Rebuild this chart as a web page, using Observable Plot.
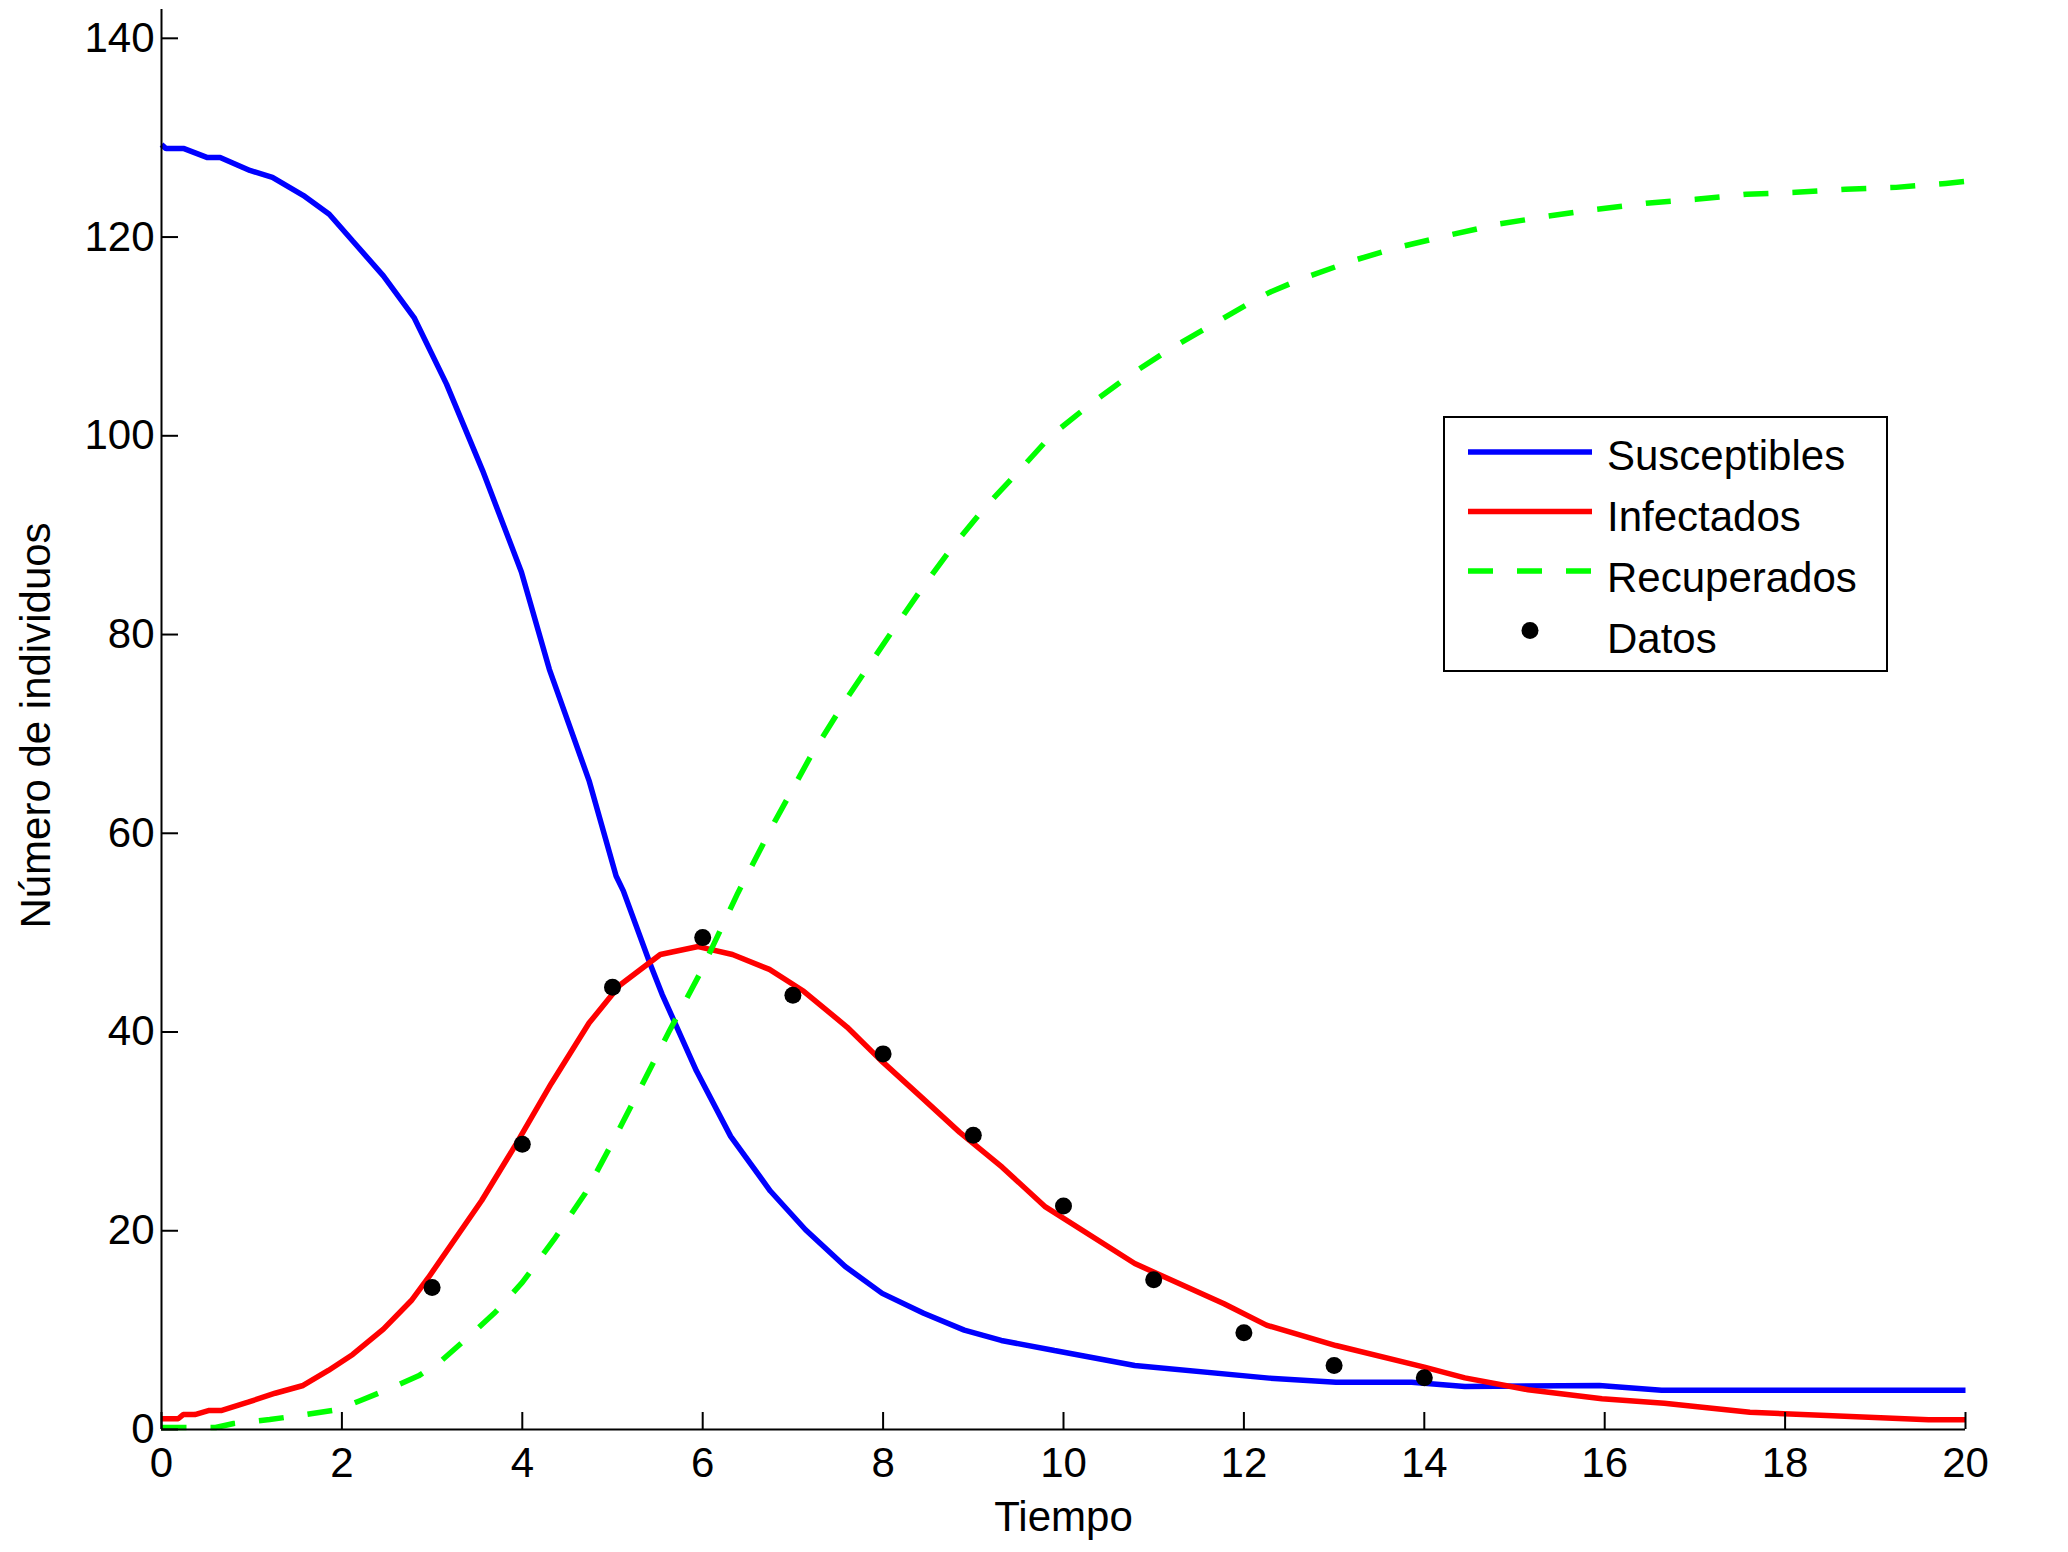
<!DOCTYPE html>
<html>
<head>
<meta charset="utf-8">
<script src="https://cdn.jsdelivr.net/npm/d3@7"></script>
<script src="https://cdn.jsdelivr.net/npm/@observablehq/plot@0.6"></script>
<style>
  html, body { margin: 0; padding: 0; background: #fff; }
  #wrap { position: relative; width: 2068px; height: 1552px; font-family: "Liberation Sans", Arial, Helvetica, sans-serif; }
  #legend { position: absolute; left: 1443px; top: 416px; width: 445px; height: 256px; box-sizing: border-box; border: 2px solid #000; background: #fff; }
</style>
</head>
<body>
<div id="wrap"></div>
<script>
// ---- Data ----
const tSus = [0, 0.05, 0.25, 0.51, 0.65, 0.98, 1.23, 1.57, 1.86, 2.12, 2.46, 2.80, 3.16, 3.56, 3.99, 4.30, 4.74, 5.04, 5.12, 5.42, 5.55, 5.93, 6.31, 6.75, 7.14, 7.58, 7.99, 8.45, 8.90, 9.31, 9.90, 10.79, 12.28, 13.02, 13.86, 14.45, 15.94, 16.63, 20];
const susceptibles = [129.3, 128.9, 128.9, 128.0, 128.0, 126.7, 126.0, 124.2, 122.3, 119.6, 116.1, 111.9, 105.2, 96.5, 86.3, 76.5, 65.3, 55.7, 54.2, 46.8, 43.8, 36.1, 29.5, 24.0, 20.1, 16.4, 13.7, 11.7, 10.0, 8.96, 7.95, 6.44, 5.17, 4.76, 4.76, 4.33, 4.43, 3.95, 3.95];

const tInf = [0, 0.185, 0.24, 0.37, 0.52, 0.66, 0.96, 1.26, 1.57, 1.85, 2.12, 2.46, 2.77, 2.96, 3.55, 3.91, 4.32, 4.74, 5.08, 5.53, 5.95, 6.33, 6.74, 7.12, 7.60, 7.97, 8.43, 8.85, 9.32, 9.80, 10.79, 11.78, 12.25, 13.02, 14.0, 14.45, 15.15, 15.97, 16.66, 17.61, 18.46, 19.59, 20];
const infectados = [1.08, 1.08, 1.5, 1.5, 1.9, 1.9, 2.75, 3.65, 4.43, 5.94, 7.55, 10.1, 12.98, 15.3, 23.05, 28.4, 34.8, 40.9, 44.7, 47.8, 48.6, 47.8, 46.3, 44.1, 40.5, 37.2, 33.4, 29.9, 26.4, 22.4, 16.7, 12.65, 10.5, 8.45, 6.27, 5.2, 4.0, 3.09, 2.65, 1.74, 1.41, 0.98, 0.98];

const tRec = [0, 0.6, 0.8, 1.2, 1.6, 1.95, 2.2, 2.5, 2.85, 3.1, 3.4, 3.7, 4.0, 4.35, 4.7, 5.0, 5.3, 5.63, 5.97, 6.39, 6.8, 7.2, 7.6, 8.09, 8.42, 8.75, 9.12, 9.49, 9.86, 10.3, 10.75, 11.21, 11.69, 12.17, 12.3, 12.67, 13.2, 13.68, 14.28, 14.82, 15.37, 15.91, 16.46, 17.01, 17.57, 18.12, 18.67, 19.23, 19.78, 20];
const recuperados = [0.2, 0.2, 0.6, 1.0, 1.5, 2.0, 2.9, 4.0, 5.4, 6.9, 9.3, 11.8, 14.8, 19.1, 23.8, 28.9, 34.2, 40.1, 45.9, 54.0, 61.2, 67.8, 73.6, 80.2, 84.5, 88.6, 92.7, 96.3, 100.0, 103.2, 106.2, 108.9, 111.4, 113.9, 114.5, 115.9, 117.6, 118.9, 120.2, 121.3, 122.1, 122.8, 123.4, 123.8, 124.3, 124.5, 124.8, 125.0, 125.4, 125.6];

const tDatos = [3, 4, 5, 6, 7, 8, 9, 10, 11, 12, 13, 14];
const datos = [14.3, 28.7, 44.5, 49.5, 43.7, 37.8, 29.6, 22.5, 15.07, 9.73, 6.44, 5.2];

const xTicks = [0, 2, 4, 6, 8, 10, 12, 14, 16, 18, 20];
const yTicks = [0, 20, 40, 60, 80, 100, 120, 140];

const seriesNames = ["Susceptibles", "Infectados", "Recuperados", "Datos"];
const seriesColors = ["#0000ff", "#ff0000", "#00ff00", "#000000"];
const xLabel = "Tiempo";
const yLabel = "Número de individuos";

// ---- Build tables ----
const sus = tSus.map((t, i) => ({t, v: susceptibles[i]}));
const inf = tInf.map((t, i) => ({t, v: infectados[i]}));
const rec = tRec.map((t, i) => ({t, v: recuperados[i]}));
const dat = tDatos.map((t, i) => ({t, v: datos[i]}));

const LW = 5.5;
const DASH = "25,24";
const FONT = "\"Liberation Sans\", Arial, Helvetica, sans-serif";

const chart = Plot.plot({
  width: 2068,
  height: 1552,
  marginLeft: 161,
  marginRight: 103,
  marginTop: 9,
  marginBottom: 123,
  x: {domain: [0, 20]},
  y: {domain: [0, 142.9]},
  style: {fontFamily: FONT, fontSize: "42px", background: "#fff", color: "#000"},
  marks: [
    Plot.line(sus, {x: "t", y: "v", stroke: seriesColors[0], strokeWidth: LW, strokeLinejoin: "miter", strokeLinecap: "butt"}),
    Plot.line(inf, {x: "t", y: "v", stroke: seriesColors[1], strokeWidth: LW, strokeLinejoin: "miter", strokeLinecap: "butt"}),
    Plot.line(rec, {x: "t", y: "v", stroke: seriesColors[2], strokeWidth: LW, strokeDasharray: DASH, strokeLinecap: "butt"}),
    Plot.dot(dat, {x: "t", y: "v", r: 8.5, fill: seriesColors[3], stroke: "none"}),
    Plot.ruleY([0], {stroke: "#000", strokeWidth: 2}),
    Plot.ruleX([0], {stroke: "#000", strokeWidth: 2}),
    Plot.axisX(xTicks, {tickSize: -17, tickPadding: 35, strokeWidth: 2, tickFormat: d3.format("d"), label: null, fill: "#000", stroke: "#000"}),
    Plot.axisY(yTicks, {tickSize: -17, tickPadding: 24, strokeWidth: 2, tickFormat: d3.format("d"), label: null, fill: "#000", stroke: "#000"}),
    Plot.text([xLabel], {frameAnchor: "bottom", dy: 88, lineAnchor: "middle", textAnchor: "middle", fontSize: 42, fill: "#000"}),
    Plot.text([yLabel], {frameAnchor: "left", dx: -125, dy: 6, rotate: -90, lineAnchor: "middle", textAnchor: "middle", fontSize: 42, fill: "#000"})
  ]
});

const wrap = document.getElementById("wrap");
wrap.appendChild(chart);

// ---- Legend (inside the axes, upper right) ----
const leg = d3.select(wrap).append("div").attr("id", "legend");
const lsvg = leg.append("svg").attr("width", 441).attr("height", 252)
  .style("position", "absolute").style("left", "0px").style("top", "0px")
  .style("font-family", FONT).style("font-size", "42px");
seriesNames.forEach((name, i) => {
  const yLine = 34 + i * 59.5;
  const yBase = 52 + i * 61;
  if (name === "Datos") {
    lsvg.append("circle").attr("cx", 85).attr("cy", yLine).attr("r", 8.5).attr("fill", seriesColors[i]);
  } else {
    lsvg.append("line").attr("x1", 23).attr("x2", 147).attr("y1", yLine).attr("y2", yLine)
      .attr("stroke", seriesColors[i]).attr("stroke-width", LW)
      .attr("stroke-dasharray", name === "Recuperados" ? DASH : null);
  }
  lsvg.append("text").attr("x", 162).attr("y", yBase).attr("fill", "#000").text(name);
});
</script>
</body>
</html>
